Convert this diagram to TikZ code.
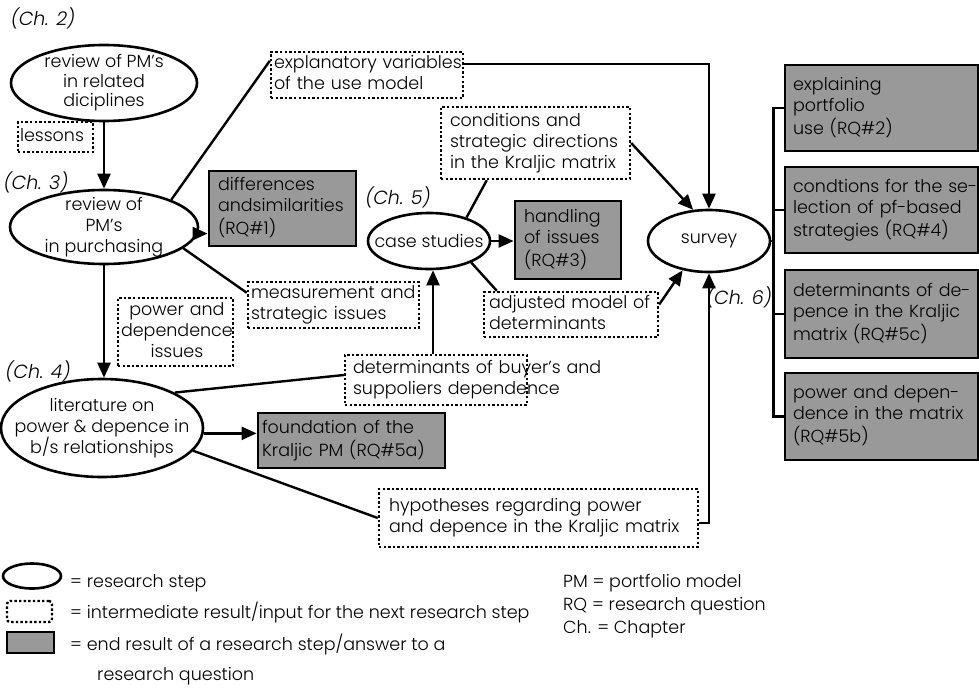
\documentclass[tikz,border=0pt]{standalone}
\usepackage{fontspec}
\setmainfont{Poppins Light}
\usetikzlibrary{arrows.meta,shapes.geometric,calc}
\definecolor{resgray}{RGB}{153,153,153}
% text lines that never wrap, left or centred
\newcommand{\boxlines}[1]{\begin{tabular}{@{}l@{}}#1\end{tabular}}
\newcommand{\boxlinesc}[1]{\begin{tabular}{@{}c@{}}#1\end{tabular}}
\tikzset{
  every node/.style={font=\fontsize{17.5}{21}\selectfont, inner sep=0pt},
  stepnode/.style={ellipse, draw, line width=2.6pt, align=center, inner sep=-60pt},
  midres/.style={rectangle, draw, line width=2.4pt, dash pattern=on 2.4pt off 2.2pt, align=left},
  endres/.style={rectangle, draw, line width=2.8pt, fill=resgray, align=left},
  chap/.style={font=\fontsize{19}{21}\selectfont\itshape},
  link/.style={line width=2.4pt},
  arr/.style={link, -{Triangle[length=15pt,width=13pt]}},
  sz/.style n args={4}{minimum width=#1pt, minimum height=#2pt, inner xsep=#3pt, text width=#4pt},
}
\begin{document}
\begin{tikzpicture}[x=1pt,y=-1pt]
\useasboundingbox (0,0) rectangle (979,688);

% research steps
\node[stepnode, minimum width=186pt, minimum height=76pt, font=\fontsize{17.5}{19.5}\selectfont] (e1) at (104,83) {review of PM's\\in related\\diciplines};
\node[stepnode, minimum width=188pt, minimum height=74pt] (e2) at (104,227) {review of\\PM's\\in purchasing};
\node[stepnode, minimum width=202pt, minimum height=98pt] (e3) at (102,428) {literature on\\power \& depence in\\b/s relationships};
\node[stepnode, minimum width=122pt, minimum height=56pt] (cs) at (429,241) {case studies};
\node[stepnode, minimum width=122pt, minimum height=62pt] (sv) at (709,241) {survey};

% chapter labels
\node[chap] (c2) at (43,18) {(Ch. 2)};
\node[chap] (c3) at (36,182) {(Ch. 3)};
\node[chap] (c4) at (38,371) {(Ch. 4)};
\node[chap] (c5) at (398,197) {(Ch. 5)};
\node[chap] (c6) at (739,297) {(Ch. 6)};

% intermediate results
\node[midres, sz={75}{30}{2}{71}] (les) at (55.5,137) {\boxlines{lessons}};
\node[midres, sz={192}{46}{3}{186}] (expl) at (367,75) {\boxlines{explanatory variables\\of the use model}};
\node[midres, sz={189}{72}{9}{171}] (cond) at (535.5,143) {\boxlines{conditions and\\strategic directions\\in the Kraljic matrix}};
\node[midres, sz={171}{46}{3}{165}] (meas) at (333.5,305) {\boxlines{measurement and\\strategic issues}};
\node[midres, sz={115}{68}{3}{109}, align=center] (pow) at (175.5,332) {\boxlinesc{power and\\dependence\\issues}};
\node[midres, sz={182}{50}{8}{166}] (det) at (436,380) {\boxlines{determinants of buyer's and\\suppoliers dependence}};
\node[midres, sz={174}{45}{5}{164}] (adj) at (571,314.5) {\boxlines{adjusted model of\\determinants}};
\node[midres, sz={319}{58}{10}{299}] (hyp) at (538.5,518) {\boxlines{hypotheses regarding power\\and depence in the Kraljic matrix}};

% end results
\node[endres, sz={147}{75}{9}{129}] (dif) at (282.5,208.5) {\boxlines{differences\\andsimilarities\\(RQ\#1)}};
\node[endres, sz={106}{78}{9}{88}] (hand) at (568,240) {\boxlines{handling\\of issues\\(RQ\#3)}};
\node[endres, sz={187}{55}{4}{179}] (found) at (351.5,440.5) {\boxlines{foundation of the\\Kraljic PM (RQ\#5a)}};
\node[endres, sz={193}{86}{8}{177}] (r2) at (881.5,108) {\boxlines{explaining\\portfolio\\use (RQ\#2)}};
\node[endres, sz={193}{86}{8}{177}] (r4) at (881.5,210) {\boxlines{condtions for the se-\\lection of pf-based\\strategies (RQ\#4)}};
\node[endres, sz={193}{88}{8}{177}] (r5c) at (881.5,314) {\boxlines{determinants of de-\\pence in the Kraljic\\matrix (RQ\#5c)}};
\node[endres, sz={193}{87}{8}{177}] (r5b) at (881.5,416.5) {\boxlines{power and depen-\\dence in the matrix\\(RQ\#5b)}};

% connectors
\draw[arr] (e1) -- (e2);
\draw[link] (e2.22) -- ($(expl.north west)+(0,10)$);
\draw[arr] ($(expl.north east)+(0,13)$) -| (sv.north);
\draw[link] ($(cond.south west)+(47,0)$) -- (cs.32);
\draw[arr] (cond.east) -- (sv.117);
\draw[arr] (cs.east) -- (cs.east -| hand.west);
\draw[link] (cs.-27) -- ($(adj.north west)+(14,0)$);
\draw[arr] ($(adj.east)+(0,-10)$) -- (sv.-132);
\draw[arr] (e2.-4) -- (e2.-4 -| dif.west);
\draw[link] (e2.-15) -- ($(meas.north west)+(0,12)$);
\coordinate (cb) at ($(cs.south)+(4,0)$);
\draw[arr] (det.north -| cb) -- (cb);
\draw[link] ($(meas.east)+(0,2)$) -- ($(meas.east)+(0,2)$ -| cb);
\draw[arr] (e2.south) -- (e2.south |- e3.north);
\draw[link] (e3.26) -- ($(det.west)+(0,-5)$);
\draw[arr] (e3.-3) -- (e3.-3 -| found.west);
\draw[link] (e3.-14) -- (hyp.west);
\draw[arr] ($(hyp.east)+(0,5)$) -| (sv.south);

% survey results bracket
\coordinate (br) at ($(r2.west)+(-10,0)$);
\draw[link] (sv.east) -- (sv.east -| br);
\draw[link] (r2.west) -- (r2.west -| br) -- (r5b.west -| br) -- (r5b.west);
\draw[link] (r4.west) -- (r4.west -| br);
\draw[link] (r5c.west) -- (r5c.west -| br);

% legend
\node[stepnode, minimum width=58pt, minimum height=25pt] (lg1) at (32,576) {};
\node[midres, minimum width=45pt, minimum height=21pt, rounded corners=3pt] (lg2) at (29.5,611.5) {};
\node[endres, minimum width=47pt, minimum height=21pt] (lg3) at (30.5,642.5) {};
\node[anchor=base west] (lt1) at (70,587) {= research step};
\node[anchor=base west] (lt2) at (70,618) {= intermediate result/input for the next research step};
\node[anchor=base west] (lt3) at (70,650) {= end result of a research step/answer to a};
\node[anchor=base west] (lt4) at (97,680) {research question};
\node[anchor=base west] (ab1) at (563,587) {PM = portfolio model};
\node[anchor=base west] (ab2) at (563,610) {RQ = research question};
\node[anchor=base west] (ab3) at (563,633) {Ch. = Chapter};
\end{tikzpicture}
\end{document}
